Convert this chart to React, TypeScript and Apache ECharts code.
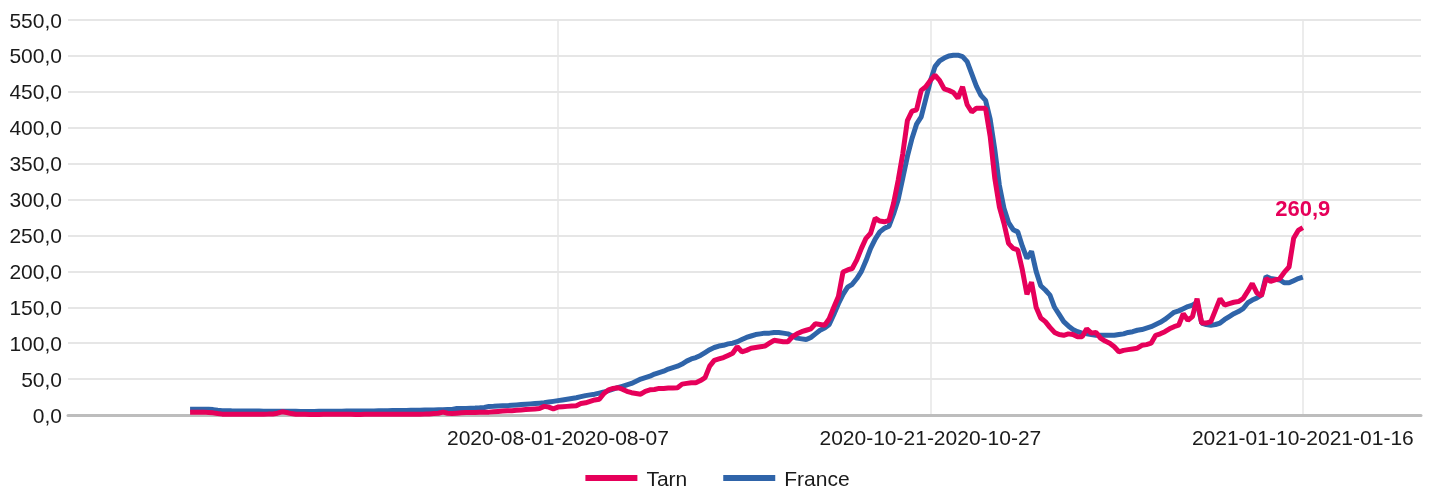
import React, { useEffect, useRef } from "react";
import * as echarts from "echarts";

// First 7-day window starts 2020-05-13; one point per sliding window
const startDate = "2020-05-13";

const tarn: number[] = [
  4, 4, 4, 4, 3.5, 3, 2,
  1.2, 1.0, 1.0, 1.1, 1.0, 0.9, 1.0, 1.0, 1.1, 1.2, 1.3, 1.5, 2.5,
  4.5, 3.5, 2,
  1.0, 0.9, 0.9, 0.8, 0.8, 0.8, 0.9, 0.9, 1.0, 1.0,
  1.0, 0.9, 0.9, 0.8, 0.8, 0.9, 1.0, 1.0, 1.1, 1.0,
  0.9, 0.9, 1.0, 1.0, 1.1, 1.1, 1.2, 1.2, 1.3, 1.5,
  2.0,
  2.5, 4, 2.5,
  2, 2.5, 3, 3.5, 3.5, 3.5, 3.7, 3.8,
  4, 4.5, 5, 5.5, 6,
  6, 6.5, 7, 7.5, 8, 8.5,
  9, 12, 11, 8.5,
  11, 11.5, 12, 12.5, 13,
  16, 17, 19, 21, 22,
  30, 35, 37, 38, 36,
  33, 31, 30, 29, 33,
  35, 35.5, 37, 37, 37.5,
  37.5, 38, 43, 44, 45,
  45, 48, 52, 68, 76,
  78, 80, 83, 86, 95,
  88, 90, 93, 94, 95,
  96, 100, 104, 103, 102,
  102, 109, 113, 116, 118,
  120, 127, 126, 125, 134,
  150, 165, 199, 202, 204,
  216, 232, 246, 253, 274,
  270, 269, 271, 295, 327,
  364, 410, 423, 425, 452,
  457, 466, 473, 466, 454,
  452, 449, 441, 457, 432,
  422, 427, 427, 427, 388,
  330, 290, 267, 239, 232,
  230, 202, 168, 185, 150,
  135, 130, 122, 115, 112,
  111, 113, 112, 109, 109,
  120, 114, 115, 107, 103,
  100, 95, 88, 90, 91,
  92, 93, 97, 98, 100,
  111, 113, 116, 120, 123,
  125, 141, 132, 137, 162,
  128, 128, 130, 146, 162,
  153, 155, 157, 158, 162,
  172, 183, 170, 166, 190,
  186, 188, 190, 199, 206,
  246, 257, 260.9,
];

const france: number[] = [
  8, 8, 8, 8, 8, 7.5,
  6.5, 6, 6, 5.8, 5.7, 5.6, 5.5, 5.5, 5.4, 5.4,
  5.3, 5.3, 5.2, 5.2, 5.2, 5.1, 5.1, 5.1, 5.0, 5.0,
  5.0, 5.0, 5.1, 5.1, 5.2, 5.2, 5.3, 5.3, 5.4, 5.4,
  5.5, 5.5, 5.6, 5.6, 5.7, 5.8, 5.9, 6.0, 6.1, 6.2,
  6.3, 6.4, 6.5, 6.6, 6.7, 6.8, 6.9, 7.0, 7.2, 7.4,
  7.6, 7.8,
  9, 9, 9.2, 9.4, 9.6, 10, 10.5,
  12, 12.2, 12.5, 12.8, 13,
  13.5, 14, 14.5, 15, 15.5, 16,
  16.5, 17, 18, 19,
  20, 21, 22, 23, 24,
  25.5, 27, 28, 29, 30.5,
  32, 34, 36, 38, 40,
  42, 44, 47, 50, 52,
  54, 57, 59, 61, 64,
  66, 68, 71, 75, 78,
  80, 83, 87, 91, 94,
  96, 97, 99, 100, 102,
  105, 108, 110, 112, 113,
  114, 114, 115, 115, 114,
  113, 110, 107, 106, 105,
  108, 113, 118, 121, 126,
  140, 155, 168, 178, 182,
  190, 200, 215, 232, 245,
  255, 260, 263, 280, 300,
  330, 360, 385, 405, 415,
  440, 465, 485, 493, 497,
  500, 501, 501, 499, 492,
  475, 458, 445, 438, 412,
  370, 320, 288, 268, 258,
  255, 235, 218, 228, 200,
  180, 174, 167, 150, 140,
  130, 124, 119, 116, 114,
  113, 112, 111, 111, 111,
  111, 111, 112, 113, 115,
  116, 118, 119, 121, 123,
  126, 129, 133, 138, 143,
  145, 148, 151, 153, 157,
  128, 126, 125, 126, 128,
  133, 137, 141, 144, 148,
  156, 160, 163, 167, 193,
  190, 189, 188, 184, 184,
  187, 190, 192,
];

const tickLabels = [
  "2020-08-01-2020-08-07",
  "2020-10-21-2020-10-27",
  "2021-01-10-2021-01-16",
];

const PINK = "#e6005a";
const BLUE = "#2f64a9";

function fmtDate(d: Date) {
  const y = d.getUTCFullYear();
  const m = String(d.getUTCMonth() + 1).padStart(2, "0");
  const dd = String(d.getUTCDate()).padStart(2, "0");
  return `${y}-${m}-${dd}`;
}

function buildCategories(n: number) {
  const base = new Date(startDate + "T00:00:00Z").getTime();
  const out: string[] = [];
  for (let i = 0; i < n; i++) {
    const s = new Date(base + i * 86400000);
    const e = new Date(base + (i + 6) * 86400000);
    out.push(`${fmtDate(s)}-${fmtDate(e)}`);
  }
  return out;
}

const fr = (v: number) => v.toFixed(1).replace(".", ",");

export default function App() {
  const ref = useRef<HTMLDivElement>(null);
  useEffect(() => {
    if (!ref.current) return;
    const chart = echarts.init(ref.current, undefined, { renderer: "svg" });
    const n = Math.max(tarn.length, france.length);
    const categories = buildCategories(n);
    const tickIdx = tickLabels.map((t) => categories.indexOf(t));
    const lastIdx = tarn.length - 1;
    const font = "'Liberation Sans', Arial, sans-serif";

    chart.setOption({
      animation: false,
      grid: { left: 68, right: 14, top: 20, bottom: 76, containLabel: false },
      legend: {
        data: ["Tarn", "France"],
        top: 467,
        left: "center",
        padding: 0,
        icon: "rect",
        itemWidth: 52,
        itemHeight: 6,
        itemGap: 36,
        textStyle: {
          fontFamily: font,
          fontSize: 21,
          lineHeight: 22,
          color: "#1a1a1a",
          padding: [0, 0, 0, 4],
        },
      },
      xAxis: {
        type: "value",
        min: -26.55,
        max: 267.7,
        axisLine: { show: true, lineStyle: { color: "#bdbdbd", width: 3 } },
        axisTick: { show: false, customValues: tickIdx },
        axisLabel: {
          customValues: tickIdx,
          formatter: (v: number) => categories[Math.round(v)] ?? "",
          fontFamily: font,
          fontSize: 21,
          color: "#1a1a1a",
          margin: 12,
        },
        splitLine: { show: true, lineStyle: { color: "#e6e6e6", width: 1.5 } },
      },
      yAxis: {
        type: "value",
        min: 0,
        max: 550,
        interval: 50,
        axisLine: { show: false },
        axisTick: { show: false },
        axisLabel: {
          formatter: (v: number) => fr(v),
          fontFamily: font,
          fontSize: 21,
          color: "#1a1a1a",
          margin: 6,
        },
        splitLine: { show: true, lineStyle: { color: "#e6e6e6", width: 2 } },
      },
      series: [
        {
          name: "France",
          type: "line",
          data: france.map((v, i) => [i, v]),
          showSymbol: false,
          z: 2,
          lineStyle: { color: BLUE, width: 5 },
          itemStyle: { color: BLUE },
        },
        {
          name: "Tarn",
          type: "line",
          data: tarn.map((v, i) => [i, v]),
          showSymbol: false,
          z: 3,
          lineStyle: { color: PINK, width: 5 },
          itemStyle: { color: PINK },
          markPoint: {
            symbol: "circle",
            symbolSize: 0,
            data: [{ coord: [lastIdx, tarn[lastIdx]], value: tarn[lastIdx] }],
            label: {
              show: true,
              position: "top",
              distance: 8,
              formatter: () => fr(tarn[lastIdx]),
              fontFamily: font,
              fontSize: 22,
              fontWeight: "bold",
              color: PINK,
            },
          },
        },
      ],
    });
    return () => chart.dispose();
  }, []);
  return (
    <div
      ref={ref}
      style={{ position: "fixed", left: 0, top: 0, width: 1435, height: 491 }}
    />
  );
}
